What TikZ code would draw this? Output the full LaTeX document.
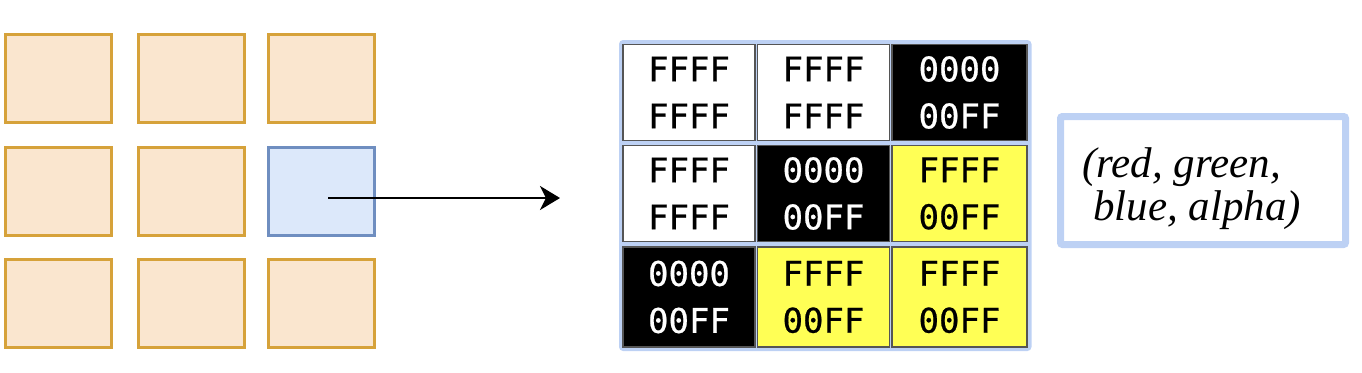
\documentclass[tikz,border=0pt]{standalone}
\usepackage{fontspec}
\setmainfont{Liberation Serif}
\newfontfamily\monof[FakeBold=0.6]{DejaVu Sans Mono}
\usetikzlibrary{arrows.meta}
\definecolor{orfill}{HTML}{FAE6CF}
\definecolor{ordraw}{HTML}{D6A23A}
\definecolor{blfill}{HTML}{DCE8FA}
\definecolor{bldraw}{HTML}{6F8EC0}
\definecolor{lblue}{HTML}{BDD1F4}
\definecolor{cellgray}{HTML}{555555}
\definecolor{yel}{HTML}{FFFF55}
\begin{document}
\begin{tikzpicture}[x=1pt,y=-1pt,
  sq/.style={draw=ordraw, fill=orfill, line width=3pt, minimum width=106pt, minimum height=88pt, inner sep=0pt},
  sel/.style={sq, draw=bldraw, fill=blfill},
  cell/.style={draw=cellgray, line width=1.5pt, inner sep=0pt, align=center, minimum width=132pt, minimum height=96pt, font=\monof\fontsize{34}{47}\selectfont},
  wcell/.style={cell, fill=white, text=black},
  kcell/.style={cell, fill=black, text=white},
  ycell/.style={cell, fill=yel, text=black},
  grid/.style={draw=lblue, line width=5pt, rounded corners=2pt},
  rgbbox/.style={draw=lblue, line width=7pt, rounded corners=2pt, minimum width=285pt, minimum height=128pt, inner sep=0pt},
  rgbtext/.style={anchor=base west, inner sep=0pt, font=\itshape\fontsize{43}{43}\selectfont},
  arr/.style={line width=2.5pt, -{Stealth[length=20pt,width=24pt,inset=6pt]}}
]
\useasboundingbox (0,0) rectangle (1362,372);
% left grid
\node[sq] (s11) at (58,78.5) {};
\node[sq] (s12) at (191,78.5) {};
\node[sq] (s13) at (321,78.5) {};
\node[sq] (s21) at (58,191) {};
\node[sq] (s22) at (191,191) {};
\node[sel] (s23) at (321,191) {};
\node[sq] (s31) at (58,303) {};
\node[sq] (s32) at (191,303) {};
\node[sq] (s33) at (321,303) {};
% arrow
\coordinate (a0) at (328,198);
\coordinate (a1) at (560,198);
\draw[arr] (a0) -- (a1);
% pixel grid
\draw[grid] (621.5,42.5) rectangle (1029,348.5);
\draw[grid] (756.5,42.5) -- (756.5,348.5);
\draw[grid] (890.5,42.5) -- (890.5,348.5);
\draw[grid] (621.5,143) -- (1029,143);
\draw[grid] (621.5,244) -- (1029,244);
\node[wcell] (c11) at (689,92.5) {FFFF\\FFFF};
\node[wcell] (c12) at (823.5,92.5) {FFFF\\FFFF};
\node[kcell, minimum width=135pt] (c13) at (959.5,92.5) {0000\\00FF};
\node[wcell] (c21) at (689,193.5) {FFFF\\FFFF};
\node[kcell] (c22) at (823.5,193.5) {0000\\00FF};
\node[ycell, minimum width=135pt] (c23) at (959.5,193.5) {FFFF\\00FF};
\node[kcell, minimum height=100pt] (c31) at (689,297) {0000\\00FF};
\node[ycell, minimum height=100pt] (c32) at (823.5,297) {FFFF\\00FF};
\node[ycell, minimum width=135pt, minimum height=100pt] (c33) at (959.5,297) {FFFF\\00FF};
% rgba box
\node[rgbbox] (rgba) at (1203,180.5) {};
\node[rgbtext] (t1) at (1082,177) {(red, green,};
\node[rgbtext] (t2) at (1093,220) {blue, alpha)};
\end{tikzpicture}
\end{document}
